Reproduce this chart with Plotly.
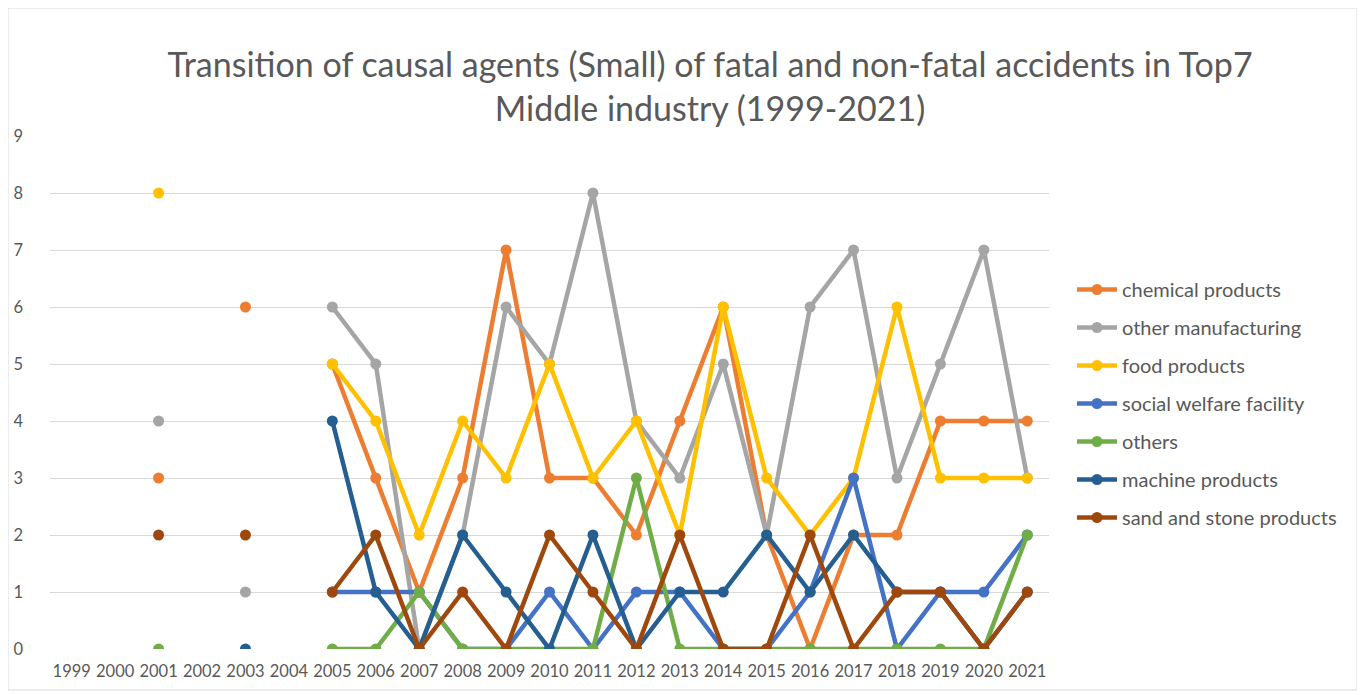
import plotly.graph_objects as go

years = [str(y) for y in range(1999, 2022)]
N = None
chemical = [N, N, 3, N, 6, N, 5, 3, 1, 3, 7, 3, 3, 2, 4, 6, 2, 0, 2, 2, 4, 4, 4]
other_mfg = [N, N, 4, N, 1, N, 6, 5, 0, 2, 6, 5, 8, 4, 3, 5, 2, 6, 7, 3, 5, 7, 3]
food = [N, N, 8, N, N, N, 5, 4, 2, 4, 3, 5, 3, 4, 2, 6, 3, 2, 3, 6, 3, 3, 3]
welfare = [N, N, N, N, N, N, 1, 1, 1, 0, 0, 1, 0, 1, 1, 0, 0, 1, 3, 0, 1, 1, 2]
others = [N, N, 0, N, N, N, 0, 0, 1, 0, 0, 0, 0, 3, 0, 0, 0, 0, 0, 0, 0, 0, 2]
machine = [N, N, N, N, 0, N, 4, 1, 0, 2, 1, 0, 2, 0, 1, 1, 2, 1, 2, 1, 1, 0, 1]
sand = [N, N, 2, N, 2, N, 1, 2, 0, 1, 0, 2, 1, 0, 2, 0, 0, 2, 0, 1, 1, 0, 1]

series = [
    ("chemical products", chemical, "#ED7D31"),
    ("other manufacturing", other_mfg, "#A5A5A5"),
    ("food products", food, "#FFC000"),
    ("social welfare facility", welfare, "#4472C4"),
    ("others", others, "#70AD47"),
    ("machine products", machine, "#255E91"),
    ("sand and stone products", sand, "#9E480E"),
]

fig = go.Figure()
for i, (name, vals, col) in enumerate(series):
    fig.add_trace(go.Scatter(
        x=years, y=vals, name=name, mode="lines+markers",
        line=dict(color=col, width=4.5),
        marker=dict(color=col, size=11),
        connectgaps=False, legendgroup=f"g{i}",
    ))

OFF = 8  # page body margin
W, H = 1350, 683
L, R, T, B = 50 - OFF, 1049 - OFF, 136 - OFF, 649 - OFF
pw, ph = R - L, B - T

def px_x(p):
    return (p - OFF - L) / pw

def px_y(p):
    return (B - (p - OFF)) / ph

fig.update_layout(
    width=W, height=H,
    margin=dict(l=L, r=W - R, t=T, b=H - B, autoexpand=False),
    paper_bgcolor="white", plot_bgcolor="white",
    font=dict(family="Lato, Carlito, sans-serif", color="#595959"),
    title=dict(
        text="Transition of causal agents (Small) of fatal and non-fatal accidents in Top7<br>Middle industry (1999-2021)",
        x=(710 - OFF) / W, xanchor="center", xref="container",
        y=1 - 69 / H, yanchor="top", yref="container",
        font=dict(size=34, color="#595959"),
    ),
    xaxis=dict(
        type="category", range=[-0.5, 22.5], showgrid=False, zeroline=False,
        showline=False, ticks="",
        tickfont=dict(size=16.5, color="#595959"), ticklabelstandoff=10,
    ),
    yaxis=dict(
        range=[0, 9], dtick=1, showgrid=True, gridcolor="#D9D9D9", gridwidth=1,
        zeroline=False, showline=False, ticks="",
        tickfont=dict(size=16.5, color="#595959"), ticklabelstandoff=26,
    ),
    legend=dict(
        x=px_x(1072), xanchor="left", y=px_y(270), yanchor="top",
        font=dict(size=20, color="#595959"), tracegroupgap=9,
        bgcolor="rgba(0,0,0,0)", itemwidth=40,
    ),
    showlegend=True,
    shapes=[dict(
        type="rect", xref="paper", yref="paper",
        x0=px_x(8), x1=px_x(1357), y0=px_y(690), y1=px_y(8),
        line=dict(color="#D9D9D9", width=1), fillcolor="rgba(0,0,0,0)", layer="below",
    )],
)

fig.write_html("out.html")
